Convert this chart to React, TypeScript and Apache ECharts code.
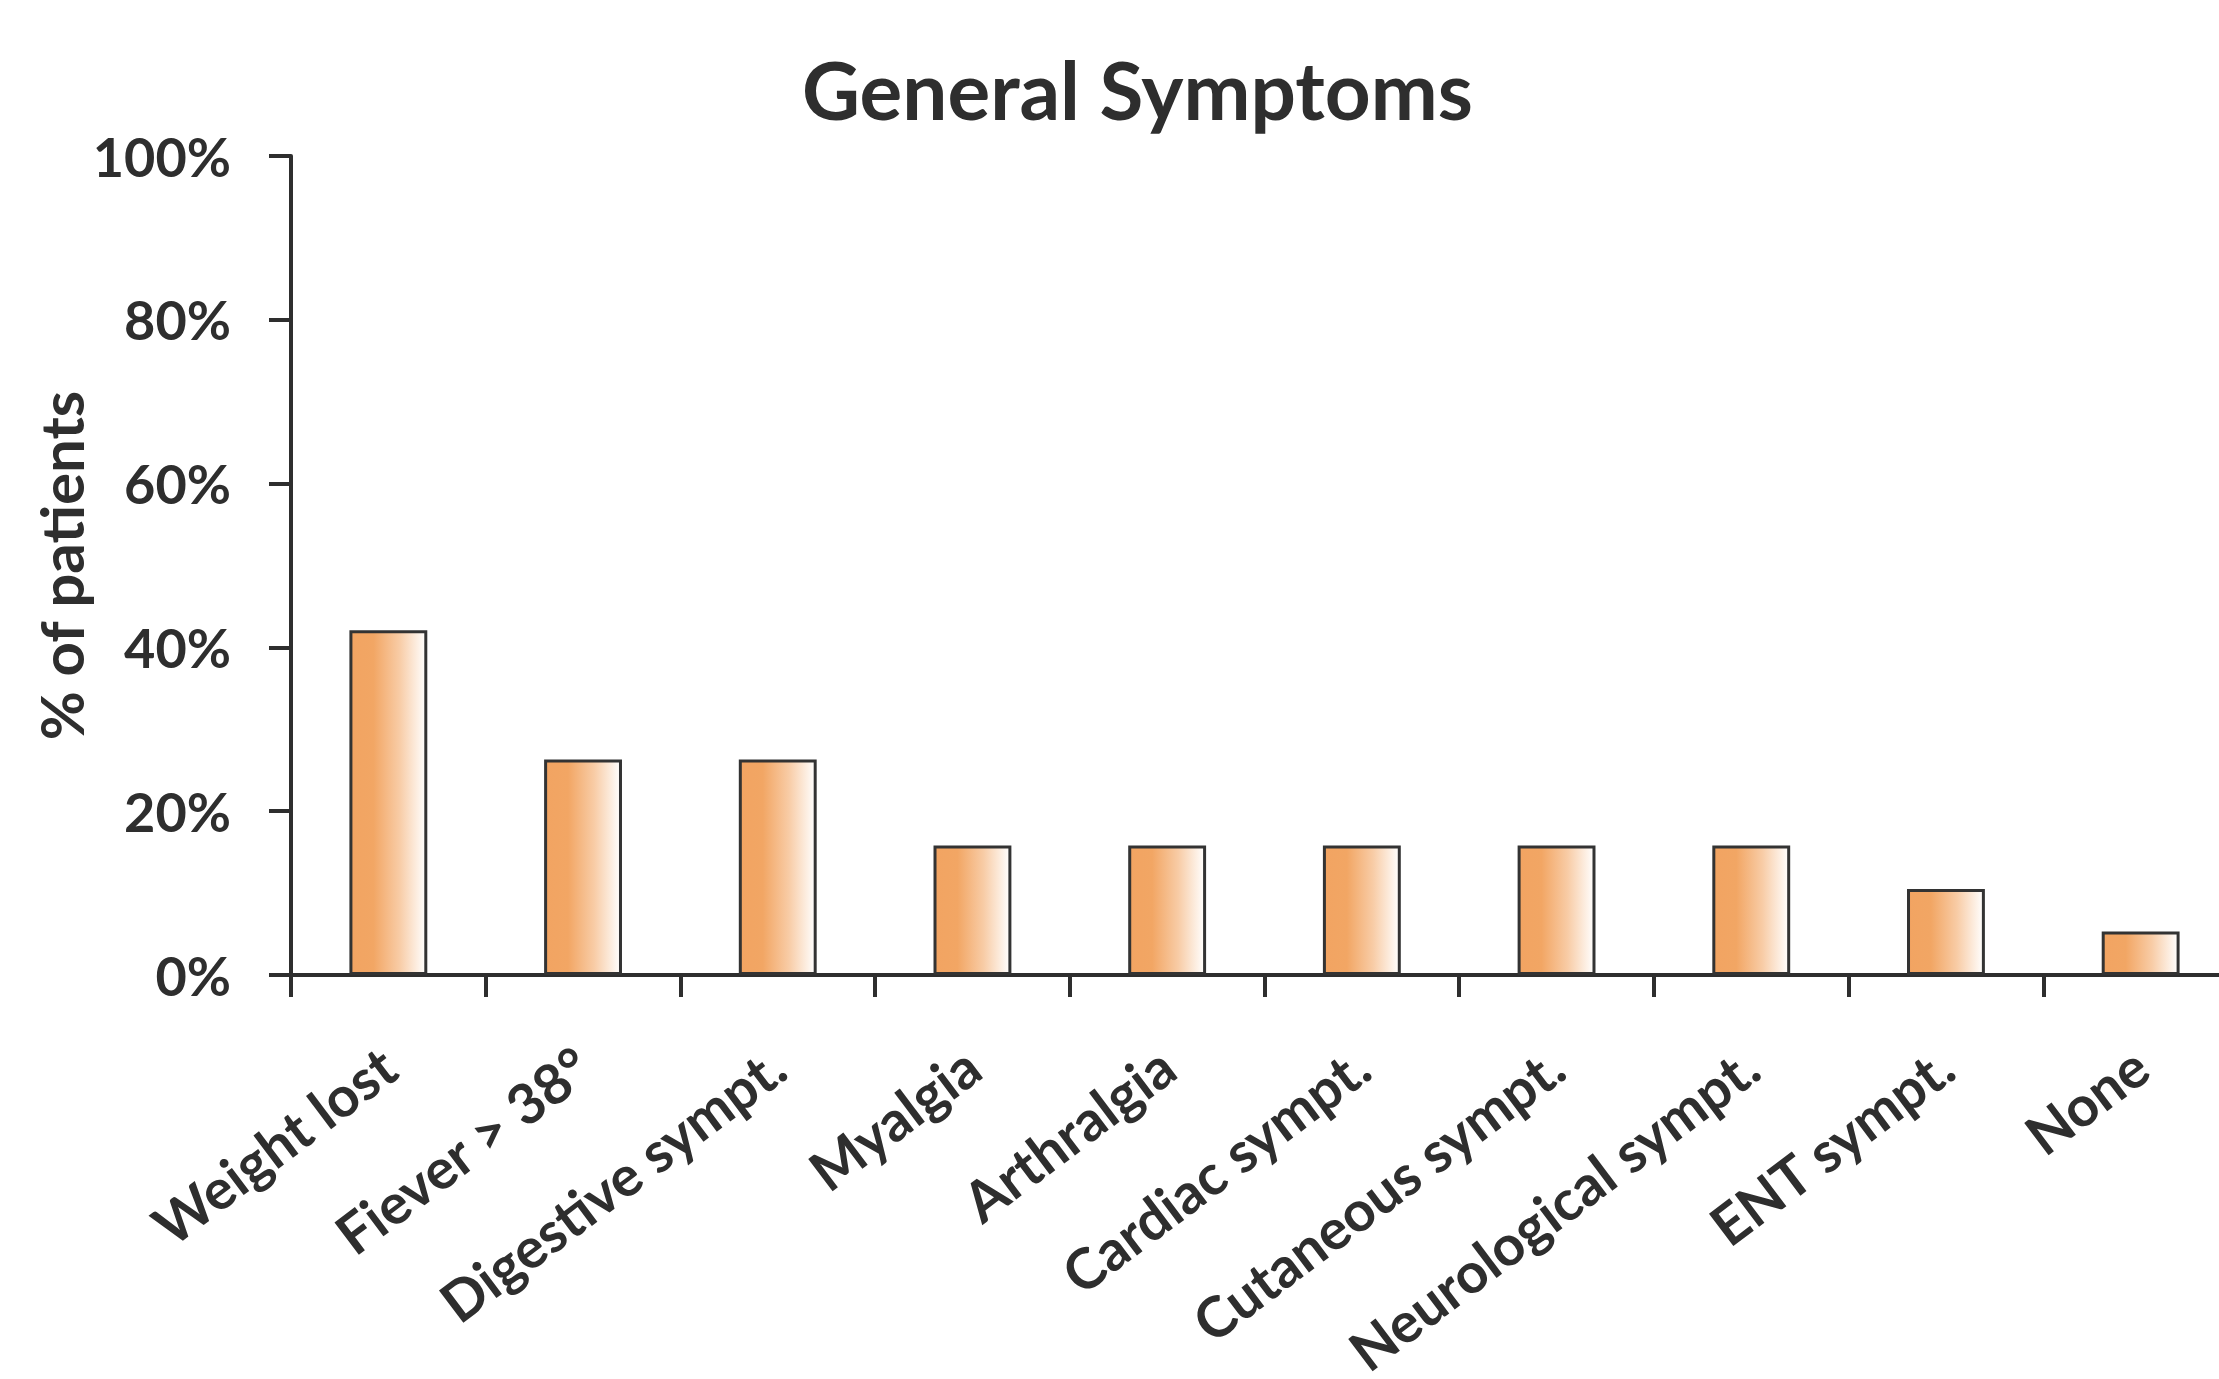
import React, { useEffect, useRef } from "react";
import * as echarts from "echarts";

const categories = [
  "Weight lost",
  "Fiever > 38°",
  "Digestive sympt.",
  "Myalgia",
  "Arthralgia",
  "Cardiac sympt.",
  "Cutaneous sympt.",
  "Neurological sympt.",
  "ENT sympt.",
  "None",
];
const percentPatients = [42.1, 26.3, 26.3, 15.8, 15.8, 15.8, 15.8, 15.8, 10.5, 5.3];
const yTicks = [0, 20, 40, 60, 80, 100];

const FONT = "Lato";
const TEXT = "#2e2e2e";

export default function App() {
  const ref = useRef<HTMLDivElement>(null);
  useEffect(() => {
    if (!ref.current) return;
    const chart = echarts.init(ref.current, undefined, { renderer: "svg" });
    chart.setOption({
      animation: false,
      backgroundColor: "#ffffff",
      title: {
        text: "General Symptoms",
        left: 797,
        top: 44,
        textStyle: { fontFamily: FONT, fontWeight: "bold", fontSize: 80, color: TEXT },
      },
      grid: { left: 291, top: 156, bottom: 404, right: 2, containLabel: false, outerBoundsMode: "none" },
      xAxis: {
        type: "category",
        data: categories,
        boundaryGap: true,
        axisLine: { show: true, lineStyle: { color: TEXT, width: 4 } },
        axisTick: { show: true, length: 22, lineStyle: { color: TEXT, width: 4 }, alignWithLabel: false },
        axisLabel: {
          interval: 0,
          rotate: 37,
          margin: 84,
          fontFamily: FONT,
          fontWeight: "bold",
          fontSize: 56,
          color: TEXT,
        },
      },
      yAxis: {
        type: "value",
        min: yTicks[0],
        max: yTicks[yTicks.length - 1],
        interval: 20,
        name: "% of patients",
        nameLocation: "middle",
        nameGap: 200,
        nameMoveOverlap: false,
        nameTextStyle: { fontFamily: FONT, fontWeight: "bold", fontSize: 60, color: TEXT },
        splitLine: { show: false },
        axisLine: { show: true, lineStyle: { color: TEXT, width: 4 } },
        axisTick: { show: true, length: 22, lineStyle: { color: TEXT, width: 4 } },
        axisLabel: {
          margin: 60,
          formatter: "{value}%",
          fontFamily: FONT,
          fontWeight: "bold",
          fontSize: 54,
          color: TEXT,
        },
      },
      series: [
        {
          type: "bar",
          data: percentPatients,
          barWidth: "40%",
          itemStyle: {
            borderColor: "#333333",
            borderWidth: 3,
            color: new echarts.graphic.LinearGradient(0, 0, 1, 0, [
              { offset: 0, color: "#F2A462" },
              { offset: 0.3, color: "#F2A664" },
              { offset: 0.65, color: "#F8CCA6" },
              { offset: 1, color: "#FFFFFF" },
            ]),
          },
        },
      ],
    });
    return () => chart.dispose();
  }, []);
  return (
    <div style={{ position: "fixed", left: 0, top: 0, width: 2219, height: 1379, overflow: "hidden", background: "#fff" }}>
      <div ref={ref} style={{ width: 2240, height: 1379 }} />
    </div>
  );
}
